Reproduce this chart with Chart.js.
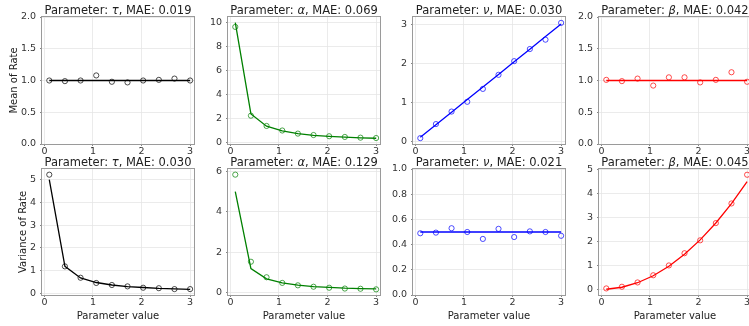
<!DOCTYPE html>
<html>
<head>
<meta charset="utf-8">
<script src="https://cdn.jsdelivr.net/npm/chart.js@4/dist/chart.umd.min.js"></script>
<style>
html, body { margin:0; padding:0; background:#fff; }
body { width:749px; height:326px; overflow:hidden; position:relative; }
canvas { position:absolute; }
</style>
</head>
<body>
<script>
// ---------- data ----------
const paramX = [0.1, 0.422, 0.744, 1.067, 1.389, 1.711, 2.033, 2.356, 2.678, 3.0];
const xTickLabels = ['0', '1', '2', '3'];

// top row: mean of rate
const tauMeanTrue   = [1, 1, 1, 1, 1, 1, 1, 1, 1, 1];
const tauMeanEst    = [1.00, 0.99, 1.00, 1.08, 0.98, 0.97, 1.00, 1.01, 1.03, 1.00];
const alphaMeanTrue = [10.0, 2.37, 1.34, 0.94, 0.72, 0.58, 0.49, 0.42, 0.37, 0.33];
const alphaMeanEst  = [9.65, 2.22, 1.36, 0.98, 0.72, 0.60, 0.50, 0.44, 0.38, 0.35];
const nuMeanTrue    = [0.1, 0.422, 0.744, 1.067, 1.389, 1.711, 2.033, 2.356, 2.678, 3.0];
const nuMeanEst     = [0.08, 0.44, 0.76, 1.01, 1.34, 1.70, 2.05, 2.36, 2.60, 3.03];
const betaMeanTrue  = [1, 1, 1, 1, 1, 1, 1, 1, 1, 1];
const betaMeanEst   = [1.01, 0.99, 1.03, 0.92, 1.05, 1.05, 0.97, 1.01, 1.13, 0.98];

// bottom row: variance of rate
const tauVarTrue    = [5.0, 1.18, 0.67, 0.47, 0.36, 0.29, 0.25, 0.21, 0.19, 0.17];
const tauVarEst     = [5.22, 1.18, 0.68, 0.45, 0.36, 0.30, 0.24, 0.22, 0.18, 0.18];
const alphaVarTrue  = [5.0, 1.18, 0.67, 0.47, 0.36, 0.29, 0.25, 0.21, 0.19, 0.17];
const alphaVarEst   = [5.84, 1.52, 0.75, 0.47, 0.35, 0.28, 0.23, 0.19, 0.18, 0.15];
const nuVarTrue     = [0.5, 0.5, 0.5, 0.5, 0.5, 0.5, 0.5, 0.5, 0.5, 0.5];
const nuVarEst      = [0.49, 0.495, 0.53, 0.50, 0.445, 0.525, 0.46, 0.505, 0.50, 0.47];
const betaVarTrue   = [0.005, 0.089, 0.277, 0.569, 0.965, 1.464, 2.067, 2.775, 3.586, 4.5];
const betaVarEst    = [0.04, 0.11, 0.29, 0.59, 1.00, 1.51, 2.05, 2.77, 3.59, 4.79];

// titles
const paramSymbols = ['τ', 'α', 'ν', 'β'];
const maeMean = ['0.019', '0.069', '0.030', '0.042'];
const maeVar  = ['0.030', '0.129', '0.021', '0.045'];

// y tick labels
const tauMeanTicks   = ['0.0', '0.5', '1.0', '1.5', '2.0'];
const alphaMeanTicks = ['0', '2', '4', '6', '8', '10'];
const nuMeanTicks    = ['0', '1', '2', '3'];
const betaMeanTicks  = ['0.0', '0.5', '1.0', '1.5', '2.0'];
const tauVarTicks    = ['0', '1', '2', '3', '4', '5'];
const alphaVarTicks  = ['0', '2', '4', '6'];
const nuVarTicks     = ['0.0', '0.2', '0.4', '0.6', '0.8', '1.0'];
const betaVarTicks   = ['0', '1', '2', '3', '4', '5'];

// axis ranges
const xRange = [-0.05, 3.08];
const yRanges = [
  [0, 2], [-0.15, 10.48], [-0.07, 3.18], [0, 2],
  [-0.08, 5.47], [-0.13, 6.12], [0, 1], [-0.235, 5.03]
];

const colors = ['#000000', '#008000', '#0000ff', '#ff0000'];
const circleColors = ['rgba(0,0,0,0.7)', 'rgba(0,128,0,0.7)', 'rgba(0,0,255,0.7)', 'rgba(255,0,0,0.7)'];

// ---------- layout ----------
const FONT = '"DejaVu Sans", "Liberation Sans", sans-serif';
const colLeft = [42, 228, 413, 599];
const axW = 152;
const rowTop = [17, 169];
const axH = [127, 126];
const padT = 22, padR = 12;
const xH = [16, 27];

const panels = [
  { row:0, col:0, t: tauMeanTrue,   e: tauMeanEst,   ticks: tauMeanTicks,   yLabel: 'Mean of Rate', yW: 34 },
  { row:0, col:1, t: alphaMeanTrue, e: alphaMeanEst, ticks: alphaMeanTicks, yW: 30 },
  { row:0, col:2, t: nuMeanTrue,    e: nuMeanEst,    ticks: nuMeanTicks,    yW: 30 },
  { row:0, col:3, t: betaMeanTrue,  e: betaMeanEst,  ticks: betaMeanTicks,  yW: 30 },
  { row:1, col:0, t: tauVarTrue,    e: tauVarEst,    ticks: tauVarTicks,    yLabel: 'Variance of Rate', yW: 25 },
  { row:1, col:1, t: alphaVarTrue,  e: alphaVarEst,  ticks: alphaVarTicks,  yW: 30 },
  { row:1, col:2, t: nuVarTrue,     e: nuVarEst,     ticks: nuVarTicks,     yW: 30 },
  { row:1, col:3, t: betaVarTrue,   e: betaVarEst,   ticks: betaVarTicks,   yW: 30 },
];

const framePlugin = {
  id: 'frameAndTitle',
  afterDraw(chart, args, opts) {
    const { ctx, chartArea: a } = chart;
    ctx.save();
    ctx.strokeStyle = '#9a9a9a';
    ctx.lineWidth = 1;
    ctx.strokeRect(Math.round(a.left) - 0.5, Math.round(a.top) - 0.5, Math.round(a.right - a.left) + 1, Math.round(a.bottom - a.top) + 1);
    const parts = opts.parts || [];
    const fN = '11.5px ' + FONT, fI = 'italic 11.5px ' + FONT;
    let total = 0;
    parts.forEach(p => { ctx.font = p.i ? fI : fN; p.w = ctx.measureText(p.s).width; total += p.w; });
    let x = (a.left + a.right) / 2 - total / 2;
    const y = a.top - 3.5;
    ctx.fillStyle = '#222';
    ctx.textAlign = 'left';
    ctx.textBaseline = 'alphabetic';
    parts.forEach(p => { ctx.font = p.i ? fI : fN; ctx.fillText(p.s, x, y); x += p.w; });
    ctx.restore();
  }
};

panels.forEach((p, k) => {
  const row = p.row, col = p.col;
  const cv = document.createElement('canvas');
  const W = p.yW + axW + padR;
  const H = padT + axH[row] + xH[row];
  cv.width = W; cv.height = H;
  cv.style.left = (colLeft[col] - p.yW) + 'px';
  cv.style.top = (rowTop[row] - padT) + 'px';
  cv.style.width = W + 'px'; cv.style.height = H + 'px';
  document.body.appendChild(cv);

  const mae = row === 0 ? maeMean[col] : maeVar[col];
  const parts = [
    { s: 'Parameter: ', i: false },
    { s: paramSymbols[col], i: true },
    { s: ', MAE: ' + mae, i: false }
  ];
  const yLabels = p.ticks;
  const yr = yRanges[k];

  new Chart(cv, {
    type: 'scatter',
    data: {
      datasets: [
        {
          data: paramX.map((x, i) => ({ x, y: p.t[i] })),
          showLine: true,
          borderColor: colors[col],
          borderWidth: 1.3,
          pointRadius: 0,
          pointHoverRadius: 0,
          fill: false,
          order: 2
        },
        {
          data: paramX.map((x, i) => ({ x, y: p.e[i] })),
          showLine: false,
          pointRadius: 2.6,
          pointBorderWidth: 1,
          pointBackgroundColor: 'rgba(0,0,0,0)',
          pointBorderColor: circleColors[col],
          order: 1
        }
      ]
    },
    options: {
      responsive: false,
      animation: false,
      events: [],
      layout: { padding: { top: padT, right: padR, left: 0, bottom: 0 }, autoPadding: false },
      plugins: {
        legend: { display: false },
        tooltip: { enabled: false },
        frameAndTitle: { parts }
      },
      scales: {
        x: {
          type: 'linear',
          min: xRange[0], max: xRange[1],
          afterBuildTicks: s => { s.ticks = xTickLabels.map(t => ({ value: parseFloat(t) })); },
          afterFit: s => { s.height = xH[row]; },
          border: { display: false },
          grid: { color: '#e6e6e6', lineWidth: 0.8, tickLength: 2, tickColor: '#666', drawTicks: true },
          ticks: {
            autoSkip: false, maxRotation: 0, padding: 0,
            color: '#333', font: { family: FONT, size: 9.5 },
            callback: v => xTickLabels.find(t => Math.abs(parseFloat(t) - v) < 1e-9) || ''
          },
          title: row === 1 ? { display: true, text: 'Parameter value', color: '#222', font: { family: FONT, size: 10 }, padding: 0 } : { display: false }
        },
        y: {
          type: 'linear',
          min: yr[0], max: yr[1],
          afterBuildTicks: s => { s.ticks = yLabels.map(t => ({ value: parseFloat(t) })); },
          afterFit: s => { s.width = p.yW; },
          border: { display: false },
          grid: { color: '#e6e6e6', lineWidth: 0.8, tickLength: 2, tickColor: '#666', drawTicks: true },
          ticks: {
            autoSkip: false, padding: 4,
            color: '#333', font: { family: FONT, size: 9.5 },
            callback: v => yLabels.find(t => Math.abs(parseFloat(t) - v) < 1e-9) || ''
          },
          title: p.yLabel ? { display: true, text: p.yLabel, color: '#222', font: { family: FONT, size: 10 }, padding: 0 } : { display: false }
        }
      }
    },
    plugins: [framePlugin]
  });
});
</script>
</body>
</html>
